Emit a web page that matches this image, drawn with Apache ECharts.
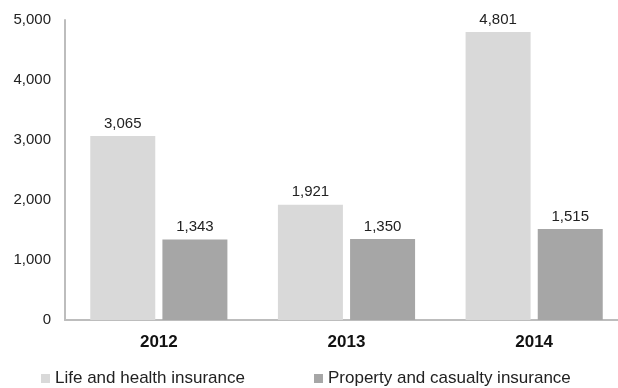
<!DOCTYPE html>
<html>
<head>
<meta charset="utf-8">
<script src="https://cdn.jsdelivr.net/npm/echarts@6/dist/echarts.min.js"></script>
<style>
  html, body { margin: 0; padding: 0; background: #fff; }
  #chart { width: 618px; height: 388px; }
</style>
</head>
<body>
<div id="chart"></div>
<script>
// Insurance figures by year
const years = ['2012', '2013', '2014'];
const lifeHealth = [3065, 1921, 4801];
const propertyCasualty = [1343, 1350, 1515];
const seriesNames = ['Life and health insurance', 'Property and casualty insurance'];

const fmt = v => v.toLocaleString('en-US');
const font = '"Liberation Sans", Arial, sans-serif';

const valueLabel = {
  show: true, position: 'top', distance: 5,
  fontFamily: font, fontSize: 15, color: '#222',
  formatter: p => fmt(p.value)
};

const chart = echarts.init(document.getElementById('chart'));
chart.setOption({
  animation: false,
  textStyle: { fontFamily: font },
  // plot area runs past the right edge of the canvas
  grid: { left: 65, width: 563, top: 20, bottom: 68, containLabel: false, outerBoundsMode: 'none' },
  legend: {
    top: 365,
    left: 36,
    itemWidth: 9,
    itemHeight: 9,
    itemGap: 69,
    icon: 'rect',
    textStyle: { fontFamily: font, fontSize: 17, color: '#222' },
    data: seriesNames
  },
  xAxis: {
    type: 'category',
    data: years,
    axisLine: { lineStyle: { color: '#bdbdbd', width: 2 } },
    axisTick: { show: false },
    axisLabel: { fontFamily: font, fontSize: 17, fontWeight: 'bold', color: '#111', margin: 14 }
  },
  yAxis: {
    type: 'value',
    min: 0,
    max: 5000,
    interval: 1000,
    axisLine: { show: true, lineStyle: { color: '#bdbdbd', width: 2 } },
    axisTick: { show: false },
    splitLine: { show: false },
    axisLabel: { fontFamily: font, fontSize: 15, color: '#222', margin: 14, formatter: fmt }
  },
  series: [
    {
      name: seriesNames[0],
      type: 'bar',
      data: lifeHealth,
      itemStyle: { color: '#d9d9d9' },
      barWidth: 65,
      barGap: '11%',
      label: valueLabel
    },
    {
      name: seriesNames[1],
      type: 'bar',
      data: propertyCasualty,
      itemStyle: { color: '#a6a6a6' },
      barWidth: 65,
      label: valueLabel
    }
  ]
});
</script>
</body>
</html>
